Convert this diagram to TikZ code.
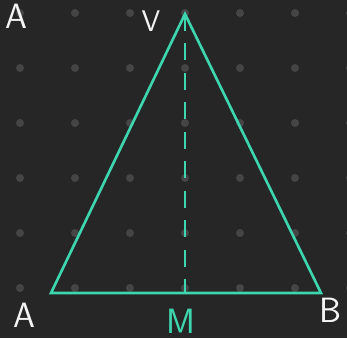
\documentclass[tikz,border=0pt]{standalone}
\usepackage{xcolor}
\usepackage{tikz}
\definecolor{board}{HTML}{262626}
\definecolor{dotgrey}{HTML}{454545}
\definecolor{edge}{HTML}{3DD6AF}
\definecolor{chalk}{HTML}{F4F4F4}

\begin{document}
\begin{tikzpicture}[x=0.02cm, y=-0.02cm, every node/.style={font=\sffamily\fontsize{20}{24}\selectfont, color=chalk, inner sep=0pt}]
  % Board
  \useasboundingbox (0,0) rectangle (347,338);
  \clip (0,0) rectangle (347,338);
  \fill[board] (0,0) rectangle (347,338);
  \foreach \i in {0,...,6} \foreach \j in {0,...,5}
    \fill[dotgrey] (20+55*\i, 13+55*\j) circle (0.08cm);
  % Triangle
  \coordinate (A) at (51,293);
  \coordinate (B) at (321,293);
  \coordinate (V) at (185,14);
  \coordinate (M) at (185,293);
  \draw[edge, line width=1.5pt] (A) -- (B) -- (V) -- cycle;
  \draw[edge, line width=1.5pt, dash pattern=on 0.34cm off 0.25cm] (V) -- (M);
  % Labels
  \node (lblTop) at (16,16) {A};
  \node[font=\sffamily\fontsize{17}{20}\selectfont] (lblV) at (151,21) {V};
  \node (lblA) at (24,315) {A};
  \node[color=edge] (lblM) at (181,321) {M};
  \node (lblB) at (330,310) {B};
\end{tikzpicture}
\end{document}
